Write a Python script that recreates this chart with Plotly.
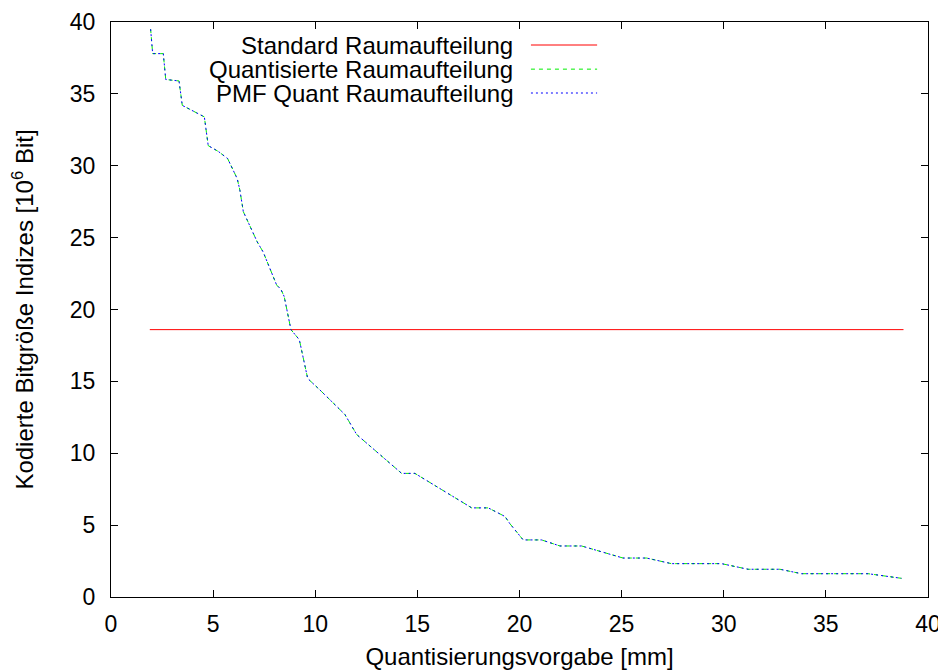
import plotly.graph_objects as go

# Data
x_vals = [1.94, 2.04, 2.56, 2.68, 3.33, 3.49, 4.57, 4.76, 5.25, 5.71, 6.18, 6.31, 6.48,
          6.94, 7.16, 7.45, 8.11, 8.32, 8.48, 8.81, 9.22, 9.63, 10.23, 11.45, 12.03,
          14.23, 14.88, 17.66, 18.47, 19.29, 19.53, 20.18, 21.08, 21.98, 23.04, 25.07,
          26.22, 27.44, 29.89, 31.19, 32.75, 33.81, 37.07, 38.7]
y_vals = [39.5, 37.8, 37.8, 36.0, 35.9, 34.2, 33.4, 31.4, 31.0, 30.5, 29.1, 28.3, 26.8,
          25.4, 24.7, 24.0, 21.7, 21.4, 20.9, 18.6, 17.9, 15.2, 14.4, 12.7, 11.3,
          8.6, 8.6, 6.2, 6.2, 5.6, 5.1, 3.97, 3.97, 3.55, 3.55, 2.71,
          2.71, 2.32, 2.32, 1.93, 1.93, 1.62, 1.62, 1.30]
standard_x = [1.9, 38.8]
standard_y = [18.6, 18.6]

series_names = ["Standard Raumaufteilung", "Quantisierte Raumaufteilung", "PMF Quant Raumaufteilung"]
series_colors = ["#ff0000", "#00ee00", "#0000ff"]
series_dash = ["solid", "4px,4px", "2px,3px"]

x_ticks = [0, 5, 10, 15, 20, 25, 30, 35, 40]
y_ticks = [0, 5, 10, 15, 20, 25, 30, 35, 40]

FONT = "Liberation Sans, Arial, Helvetica, sans-serif"
FS = 24
TFS = 23

fig = go.Figure()
fig.add_trace(go.Scatter(x=standard_x, y=standard_y, mode="lines", name=series_names[0],
                         line=dict(color=series_colors[0], width=1, dash=series_dash[0]),
                         showlegend=False))
fig.add_trace(go.Scatter(x=x_vals, y=y_vals, mode="lines", name=series_names[1],
                         line=dict(color=series_colors[1], width=1, dash=series_dash[1]),
                         showlegend=False))
fig.add_trace(go.Scatter(x=x_vals, y=y_vals, mode="lines", name=series_names[2],
                         line=dict(color=series_colors[2], width=1, dash=series_dash[2]),
                         showlegend=False))

# gnuplot-style legend: right-aligned text, sample line to the right
legend_rows_y = [0.960, 0.918, 0.8765]
for name, col, dsh, yy in zip(series_names, series_colors, series_dash, legend_rows_y):
    fig.add_annotation(x=0.4945, y=yy, xref="paper", yref="paper", text=name,
                       showarrow=False, xanchor="right", yanchor="middle",
                       font=dict(family=FONT, size=FS, color="black"))
    fig.add_shape(type="line", xref="paper", yref="paper", x0=0.514, x1=0.595,
                  y0=yy, y1=yy, line=dict(color=col, width=1, dash=dsh))

axis_common = dict(
    showgrid=False, zeroline=False, showline=True, linecolor="black", linewidth=1,
    mirror="ticks", ticks="inside", ticklen=7, tickcolor="black", tickwidth=1,
    tickfont=dict(family=FONT, size=TFS, color="black"), automargin=False,
)

fig.update_layout(
    width=938, height=662,
    margin=dict(l=103, r=18, t=14, b=73),
    paper_bgcolor="white", plot_bgcolor="white",
    xaxis=dict(range=[0, 40], tickvals=x_ticks, ticktext=[str(t) for t in x_ticks],
               ticklabelstandoff=6,
               title=dict(text="Quantisierungsvorgabe [mm]", standoff=12,
                          font=dict(family=FONT, size=FS, color="black")),
               **axis_common),
    yaxis=dict(range=[0, 40], tickvals=y_ticks, ticktext=[str(t) for t in y_ticks],
               ticklabelstandoff=10,
               title=dict(text="Kodierte Bitgröße Indizes [10<sup>6</sup> Bit]", standoff=30,
                          font=dict(family=FONT, size=FS, color="black")),
               **axis_common),
    showlegend=False,
)

fig.write_html("out.html")
